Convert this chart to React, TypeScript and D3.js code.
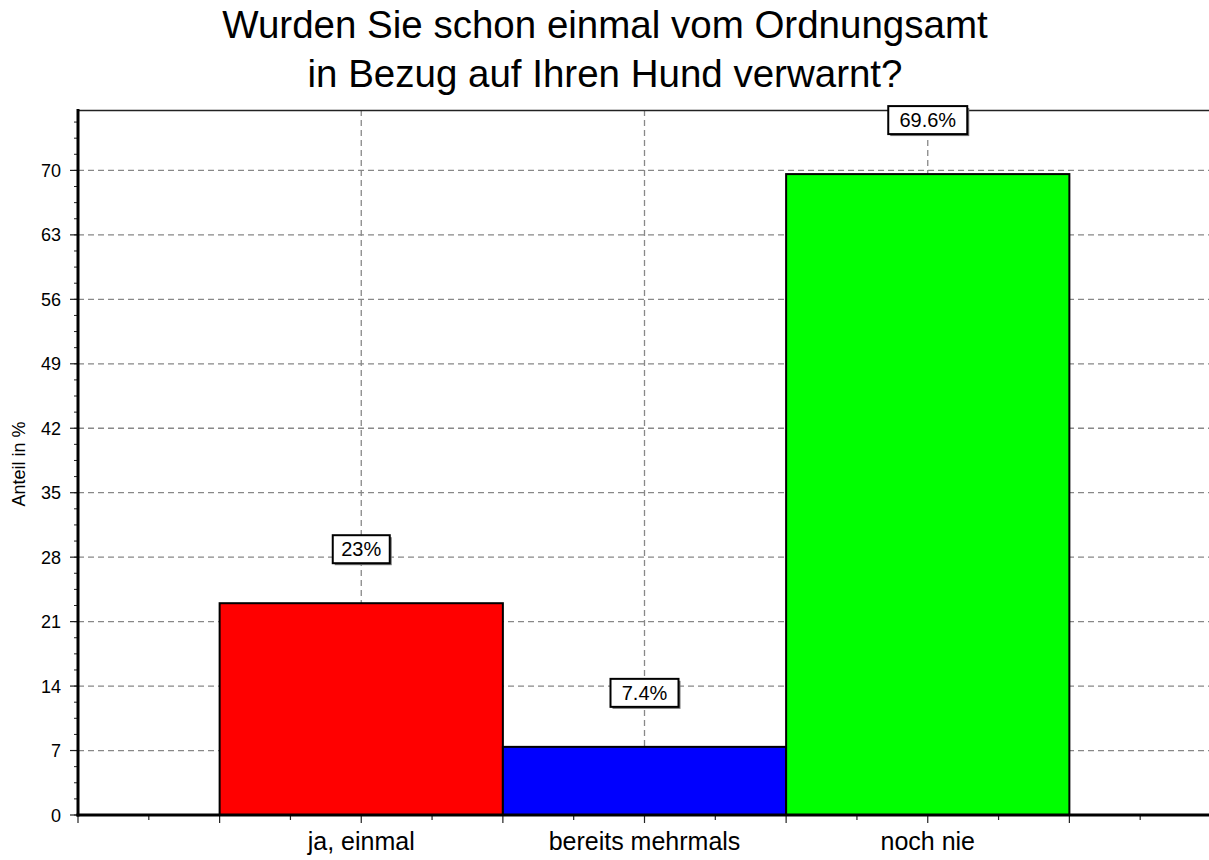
import React from "react";
import * as d3 from "d3";

const titleLines = ["Wurden Sie schon einmal vom Ordnungsamt", "in Bezug auf Ihren Hund verwarnt?"];
const categories = ["ja, einmal", "bereits mehrmals", "noch nie"];
const values = [23, 7.4, 69.6];
const valueLabels = ["23%", "7.4%", "69.6%"];
const colors = ["#ff0000", "#0000ff", "#00ff00"];
const yTicks = [0, 7, 14, 21, 28, 35, 42, 49, 56, 63, 70];
const yLabel = "Anteil in %";

const W = 1209;
const H = 860;
const FONT = "'Liberation Sans', Arial, sans-serif";

export default function App() {
  const left = 78;
  const top = 110;
  const bottom = 815;
  const x = d3.scaleLinear().domain([0, 4]).range([left, 1211]);
  const y = d3.scaleLinear().domain([0, 76.56]).range([bottom, top]);

  const minorY = d3.range(0, 76.56, 1.75);
  const minorX = d3.range(0, 4.01, 0.25);

  const boxW = (s: string) => s.length * 11 + 24;

  return (
    <svg
      width={W}
      height={H}
      style={{ position: "absolute", left: 0, top: 0, background: "#fff" }}
      fontFamily={FONT}
    >
      <rect x={0} y={0} width={W} height={H} fill="#fff" />
      {titleLines.map((t, i) => (
        <text key={i} x={605} y={38 + i * 49} textAnchor="middle" fontSize={38.5} fill="#000">
          {t}
        </text>
      ))}

      {/* horizontal grid */}
      {yTicks.filter((v) => v > 0).map((v) => (
        <line key={"gy" + v} x1={left} x2={W} y1={y(v)} y2={y(v)} stroke="#888" strokeWidth={1.3} strokeDasharray="6,4" />
      ))}
      {/* vertical grid */}
      {categories.map((c, i) => (
        <line key={"gx" + c} x1={x(i + 1)} x2={x(i + 1)} y1={top} y2={bottom} stroke="#888" strokeWidth={1.3} strokeDasharray="6,4" />
      ))}

      {/* top border */}
      <line x1={left} x2={W} y1={top + 0.5} y2={top + 0.5} stroke="#222" strokeWidth={1.5} />

      {/* bars */}
      {values.map((v, i) => (
        <rect
          key={"b" + i}
          x={x(i + 0.5)}
          y={y(v)}
          width={x(i + 1.5) - x(i + 0.5)}
          height={y(0) - y(v)}
          fill={colors[i]}
          stroke="#000"
          strokeWidth={2}
        />
      ))}

      {/* value labels */}
      {values.map((v, i) => {
        const cx = x(i + 1);
        const cy = y(v) - 54;
        const bw = boxW(valueLabels[i]);
        return (
          <g key={"l" + i}>
            <rect x={cx - bw / 2 + 2} y={cy - 14 + 2} width={bw} height={28} fill="#777" />
            <rect x={cx - bw / 2} y={cy - 14} width={bw} height={28} fill="#fff" stroke="#000" strokeWidth={2} />
            <text x={cx} y={cy + 7} textAnchor="middle" fontSize={20} fill="#000">
              {valueLabels[i]}
            </text>
          </g>
        );
      })}

      {/* y minor ticks */}
      {minorY.map((v, i) => (
        <line key={"my" + i} x1={left - 4} x2={left} y1={y(v)} y2={y(v)} stroke="#222" strokeWidth={1} />
      ))}
      {/* y major ticks + labels */}
      {yTicks.map((v) => (
        <g key={"ty" + v}>
          <line x1={left - 8} x2={left} y1={y(v)} y2={y(v)} stroke="#222" strokeWidth={1.2} />
          <text x={61} y={y(v) + 6.5} textAnchor="end" fontSize={18} fill="#000">
            {v}
          </text>
        </g>
      ))}
      {/* x ticks */}
      {minorX.map((v, i) => (
        <line key={"tx" + i} x1={x(v)} x2={x(v)} y1={bottom} y2={bottom + (i % 2 === 0 ? 8 : 5)} stroke="#222" strokeWidth={1.2} />
      ))}

      {/* axes */}
      <line x1={left} x2={left} y1={top - 1} y2={bottom + 1.5} stroke="#000" strokeWidth={3} />
      <line x1={left - 1.5} x2={W} y1={bottom} y2={bottom} stroke="#000" strokeWidth={3} />

      {/* category labels */}
      {categories.map((c, i) => (
        <text key={"c" + i} x={x(i + 1)} y={850} textAnchor="middle" fontSize={25} fill="#000">
          {c}
        </text>
      ))}

      {/* y label */}
      <text transform={`translate(25,464) rotate(-90)`} textAnchor="middle" fontSize={18} fill="#000">
        {yLabel}
      </text>
    </svg>
  );
}
